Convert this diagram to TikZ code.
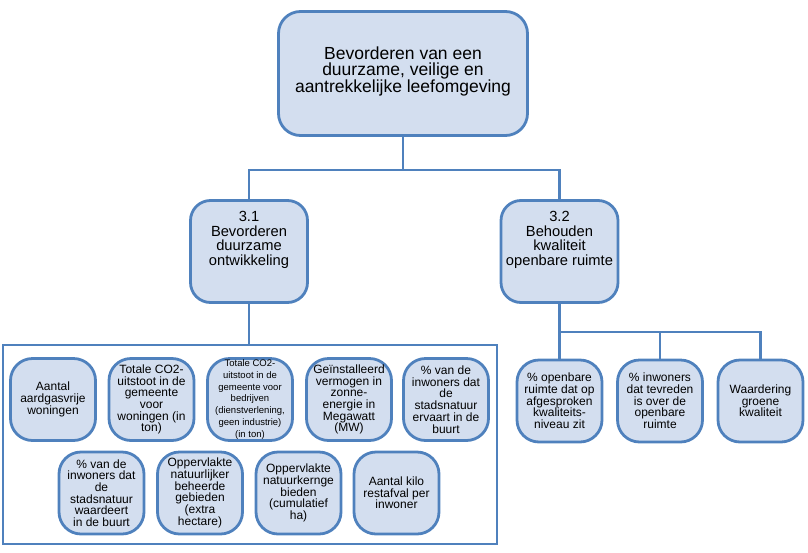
\documentclass[tikz,border=0pt]{standalone}
\usepackage{fontspec}
\setmainfont{Liberation Sans}
\definecolor{bordercol}{HTML}{4F81BD}
\definecolor{fillcol}{HTML}{D3DEEF}
\tikzset{
  box/.style={draw=bordercol, fill=fillcol, line width=2.8pt, rounded corners=22pt, align=center, inner sep=0pt},
  topbox/.style={box, minimum width=249pt, minimum height=124pt},
  midbox/.style={box, minimum width=117pt, minimum height=102pt, rounded corners=20pt},
  smallbox/.style={box, minimum width=85pt, minimum height=82pt},
  conn/.style={draw=bordercol, line width=2.8pt},
  groupbox/.style={draw=bordercol, line width=2.2pt, minimum width=494pt, minimum height=199pt, inner sep=0pt},
  toptxt/.style={align=center, inner sep=0pt, font=\fontsize{17.5}{15.8}\selectfont},
  midtxt/.style={align=center, inner sep=0pt, font=\fontsize{14.7}{14.7}\selectfont},
  sfont/.style={font=\fontsize{12}{11.7}\selectfont},
  tfont/.style={font=\fontsize{9.5}{11.9}\selectfont},
}
\begin{document}
\begin{tikzpicture}[x=1pt,y=-1pt]
\useasboundingbox (0,0) rectangle (808,552);
% top
\node[topbox] (top) at (403,73.5) {};
\node[toptxt] (toptext) at (403,71.5) {Bevorderen van een\\duurzame, veilige en\\aantrekkelijke leefomgeving};
% level 2
\node[midbox] (b31) at (249,251.5) {};
\node[midtxt] (b31t) at (249,240) {3.1\\Bevorderen\\duurzame\\ontwikkeling};
\node[midbox] (b32) at (559.5,251.5) {};
\node[midtxt] (b32t) at (559.5,240) {3.2\\Behouden\\kwaliteit\\openbare ruimte};
% connectors top
\coordinate (h1) at (249,170);
\coordinate (h2) at (559.5,170);
\draw[conn] (top.south) -- (top.south |- h1);
\draw[conn] (b31.north) -- (h1) -- (h2) -- (b32.north);
% group box
\node[groupbox] (grp) at (250,444.5) {};
\draw[conn] (b31.south) -- (b31.south |- grp.north);
% row 1
\node[smallbox, sfont] (s1) at (53,399.5) {Aantal\\aardgasvrije\\woningen};
\node[smallbox, sfont] (s2) at (151.5,399.5) {Totale CO2-\\uitstoot in de\\gemeente\\voor\\woningen (in\\ton)};
\node[smallbox, tfont] (s3) at (250,399.5) {Totale CO2-\\uitstoot in de\\gemeente voor\\bedrijven\\(dienstverlening,\\geen industrie)\\(in ton)};
\node[smallbox, sfont] (s4) at (349,399.5) {Geïnstalleerd\\vermogen in\\zonne-\\energie in\\Megawatt\\(MW)};
\node[smallbox, sfont] (s5) at (446,399.5) {\% van de\\inwoners dat\\de\\stadsnatuur\\ervaart in de\\buurt};
% row 2
\node[smallbox, sfont] (s6) at (101.5,493) {\% van de\\inwoners dat\\de\\stadsnatuur\\waardeert\\in de buurt};
\node[smallbox, sfont] (s7) at (200,493) {Oppervlakte\\natuurlijker\\beheerde\\gebieden\\(extra\\hectare)};
\node[smallbox, sfont] (s8) at (298.5,493) {Oppervlakte\\natuurkernge\\bieden\\(cumulatief\\ha)};
\node[smallbox, sfont] (s9) at (396.5,493) {Aantal kilo\\restafval per\\inwoner};
% right side
\node[smallbox, sfont] (r1) at (559.5,401) {\% openbare\\ruimte dat op\\afgesproken\\kwaliteits-\\niveau zit};
\node[smallbox, sfont] (r2) at (660,401) {\% inwoners\\dat tevreden\\is over de\\openbare\\ruimte};
\node[smallbox, sfont] (r3) at (760.5,401) {Waardering\\groene\\kwaliteit};
\coordinate (h3) at (559.5,332);
\draw[conn] (b32.south) -- (r1.north);
\draw[conn] (h3) -- (r3.north |- h3) -- (r3.north);
\draw[conn] (r2.north |- h3) -- (r2.north);
\end{tikzpicture}
\end{document}
